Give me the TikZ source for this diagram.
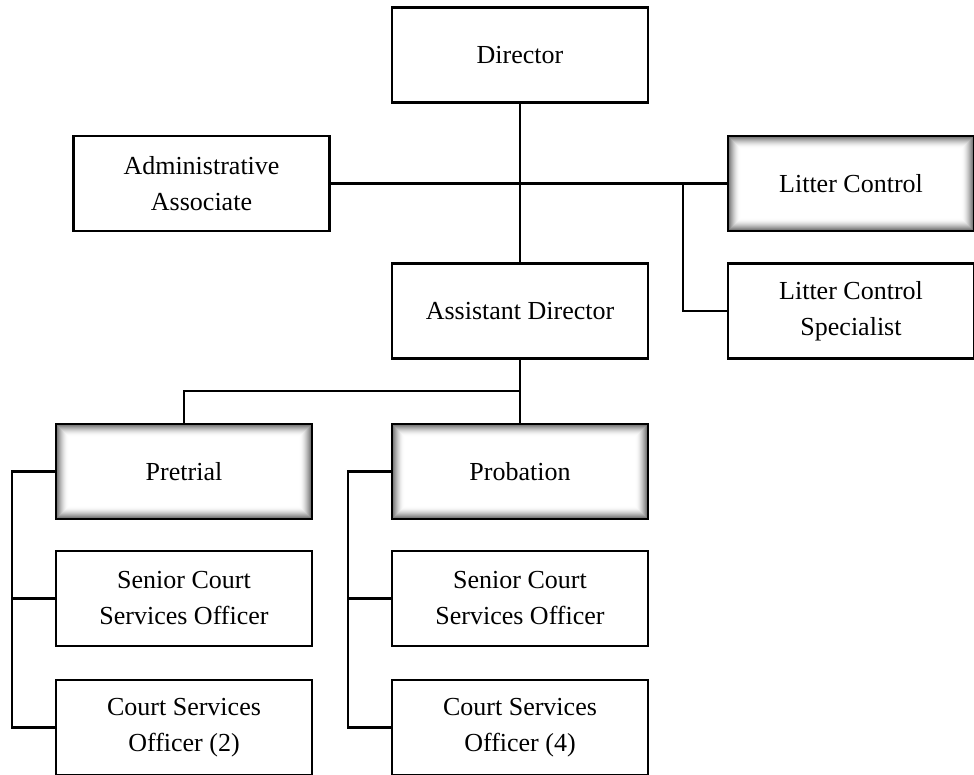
\documentclass[tikz,border=0pt]{standalone}
\usepackage{fontspec}
\setmainfont{Liberation Serif}
\begin{document}
\begin{tikzpicture}[x=1pt,y=-1pt,
  box/.style={draw=black,line width=2.2pt,fill=white,minimum width=256pt,minimum height=95pt,inner sep=0pt,align=center,font=\fontsize{26}{36}\selectfont},
  shaded/.style={box,path picture={
     \foreach \i in {1,...,12}{
       \pgfmathsetmacro{\op}{0.38*(1-\i/13)^2}
       \draw[black,opacity=\op,line width=1.1pt]
         ([shift={(\i pt,-\i pt)}]path picture bounding box.north west) rectangle
         ([shift={(-\i pt,\i pt)}]path picture bounding box.south east);
     }}},
  conn/.style={line width=2.2pt}]
\useasboundingbox (0,0) rectangle (974,774);
\clip (0,0) rectangle (974,774);
\coordinate (hL) at (683,183);
\coordinate (hA) at (520,391);
\node[box] (dir) at (520,55) {Director};
\node[box] (adm) at (201.5,183.5) {Administrative\\Associate};
\node[shaded,minimum width=246pt] (lc) at (851,183.5) {Litter Control};
\node[box,minimum width=246pt] (lcs) at (851,311) {Litter Control\\Specialist};
\node[box] (ad) at (520,311) {Assistant Director};
\node[shaded] (pre) at (184,471.5) {Pretrial};
\node[shaded] (pro) at (520,471.5) {Probation};
\node[box] (s1) at (184,598.5) {Senior Court\\Services Officer};
\node[box] (c1) at (184,727.5) {Court Services\\Officer (2)};
\node[box] (s2) at (520,598.5) {Senior Court\\Services Officer};
\node[box] (c2) at (520,727.5) {Court Services\\Officer (4)};
\coordinate (vl) at (12,0);
\coordinate (vr) at (348,0);
\draw[conn] (dir.south) -- (ad.north);
\draw[conn] (adm.east) -- (lc.west);
\draw[conn] (hL) |- (lcs.west);
\draw[conn] (ad.south) -- (hA) -| (pre.north);
\draw[conn] (hA) -- (pro.north);
\draw[conn] (pre.west) -| (vl |- c1.west) -- (c1.west);
\draw[conn] (vl |- s1.west) -- (s1.west);
\draw[conn] (pro.west) -| (vr |- c2.west) -- (c2.west);
\draw[conn] (vr |- s2.west) -- (s2.west);
\end{tikzpicture}
\end{document}
